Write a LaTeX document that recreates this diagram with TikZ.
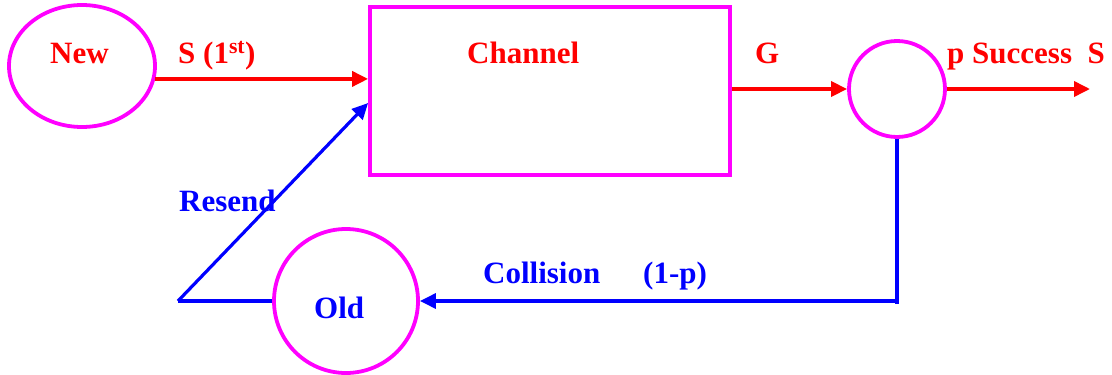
\documentclass[tikz,border=0pt]{standalone}
\usepackage{fontspec}
\setmainfont{Liberation Serif}
\usetikzlibrary{arrows.meta,shapes.geometric,calc}
\definecolor{mag}{RGB}{255,0,255}
\definecolor{rd}{RGB}{255,0,0}
\definecolor{bl}{RGB}{0,0,255}
\begin{document}
\begin{tikzpicture}[x=1pt,y=-1pt,
  shp/.style={draw=mag, line width=3.8pt, inner sep=0pt},
  redarr/.style={draw=rd, line width=3.6pt, -{Triangle[length=16pt,width=15pt]}},
  bluarr/.style={draw=bl, line width=3.2pt, -{Triangle[length=16pt,width=15pt]}},
  bluln/.style={draw=bl, line width=3.2pt},
  lbl/.style={font=\fontsize{31}{36}\selectfont\bfseries, inner sep=0pt, anchor=base west},
]
\useasboundingbox (0,0) rectangle (1112,375);
\node[shp, ellipse, minimum width=146pt, minimum height=122pt] (new) at (82,66) {};
\node[shp, rectangle, minimum width=360pt, minimum height=168pt] (chan) at (550,91) {};
\node[shp, circle, minimum size=96pt] (sw) at (897,89) {};
\node[shp, circle, minimum size=144pt] (old) at (346,301) {};
\coordinate (out) at (1090,89);
\coordinate (c1) at (897,304);
\coordinate (c2) at (178,301);
% red flow
\draw[redarr] (new.-10) -- (new.-10 -| chan.west);
\draw[redarr] (sw.west -| chan.east) -- (sw.west);
\draw[redarr] (sw.east) -- (out);
% blue feedback
\draw[bluln] (sw.south) -- (c1);
\draw[bluarr] (sw.south |- old.east) -- (old.east);
\draw[bluln] (old.west) -- (c2);
\draw[bluarr] (c2) -- ($(chan.west)+(0,12)$);
% labels
\node[lbl, text=rd] (tnew) at (50,63) {New};
\node[lbl, text=rd] (ts) at (178,63) {S (1\textsuperscript{st})};
\node[lbl, text=rd] (tchan) at (467,63) {Channel};
\node[lbl, text=rd] (tg) at (755,63) {G};
\node[lbl, text=rd] (tsucc) at (947,63) {p Success\ \ S};
\node[lbl, text=bl] (tres) at (179,211) {Resend};
\node[lbl, text=bl] (told) at (314,318) {Old};
\node[lbl, text=bl] (tcol) at (483,283) {Collision};
\node[lbl, text=bl] (tp) at (643,283) {(1-p)};
\end{tikzpicture}
\end{document}
